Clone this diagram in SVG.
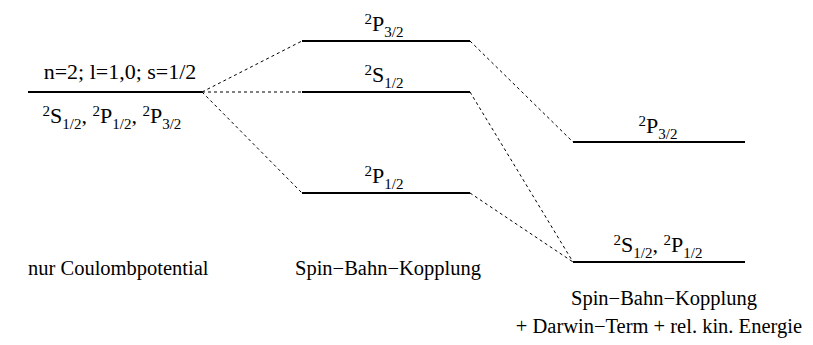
<svg xmlns="http://www.w3.org/2000/svg" width="813" height="345" viewBox="0 0 813 345">
<style>
text{font-family:'Liberation Serif','Times New Roman',serif;font-size:22px;fill:#000}
.cap{font-size:20.5px}
.s{font-size:15px}
.lvl{stroke:#000;stroke-width:2;fill:none}
.con{stroke:#000;stroke-width:1;stroke-dasharray:3,3;fill:none}
</style>
<rect width="813" height="345" fill="#fff"/>
<g id="connectors">
<line class="con" x1="202" y1="92" x2="302" y2="41"/>
<line class="con" x1="202" y1="92" x2="302" y2="92"/>
<line class="con" x1="202" y1="92" x2="302" y2="193"/>
<line class="con" x1="470" y1="41" x2="573" y2="142"/>
<line class="con" x1="470" y1="92" x2="573" y2="262"/>
<line class="con" x1="470" y1="193" x2="573" y2="262"/>
</g>
<g id="level-n2">
<line class="lvl" x1="28" y1="92" x2="202" y2="92"/>
<text x="120" y="79" text-anchor="middle">n=2; l=1,0; s=1/2</text>
<text x="112" y="123" text-anchor="middle"><tspan class="s" dy="-7">2</tspan><tspan dy="7">S</tspan><tspan class="s" dy="6">1/2</tspan><tspan dy="-6">, </tspan><tspan class="s" dy="-7">2</tspan><tspan dy="7">P</tspan><tspan class="s" dy="6">1/2</tspan><tspan dy="-6">, </tspan><tspan class="s" dy="-7">2</tspan><tspan dy="7">P</tspan><tspan class="s" dy="6">3/2</tspan></text>
</g>
<g id="level-mid-P32">
<line class="lvl" x1="302" y1="41" x2="470" y2="41"/>
<text x="384" y="31" text-anchor="middle"><tspan class="s" dy="-7">2</tspan><tspan dy="7">P</tspan><tspan class="s" dy="6">3/2</tspan></text>
</g>
<g id="level-mid-S12">
<line class="lvl" x1="302" y1="92" x2="470" y2="92"/>
<text x="384" y="82" text-anchor="middle"><tspan class="s" dy="-7">2</tspan><tspan dy="7">S</tspan><tspan class="s" dy="6">1/2</tspan></text>
</g>
<g id="level-mid-P12">
<line class="lvl" x1="302" y1="193" x2="470" y2="193"/>
<text x="384" y="183" text-anchor="middle"><tspan class="s" dy="-7">2</tspan><tspan dy="7">P</tspan><tspan class="s" dy="6">1/2</tspan></text>
</g>
<g id="level-right-P32">
<line class="lvl" x1="573" y1="142" x2="745" y2="142"/>
<text x="658" y="133" text-anchor="middle"><tspan class="s" dy="-7">2</tspan><tspan dy="7">P</tspan><tspan class="s" dy="6">3/2</tspan></text>
</g>
<g id="level-right-S12-P12">
<line class="lvl" x1="573" y1="262" x2="745" y2="262"/>
<text x="658" y="252" text-anchor="middle"><tspan class="s" dy="-7">2</tspan><tspan dy="7">S</tspan><tspan class="s" dy="6">1/2</tspan><tspan dy="-6">, </tspan><tspan class="s" dy="-7">2</tspan><tspan dy="7">P</tspan><tspan class="s" dy="6">1/2</tspan></text>
</g>
<g id="captions">
<text class="cap" x="28" y="275">nur Coulombpotential</text>
<text class="cap" x="388" y="275" text-anchor="middle">Spin−Bahn−Kopplung</text>
<text class="cap" x="664" y="305" text-anchor="middle">Spin−Bahn−Kopplung</text>
<text class="cap" x="802" y="333" text-anchor="end">+ Darwin−Term + rel. kin. Energie</text>
</g>
</svg>
